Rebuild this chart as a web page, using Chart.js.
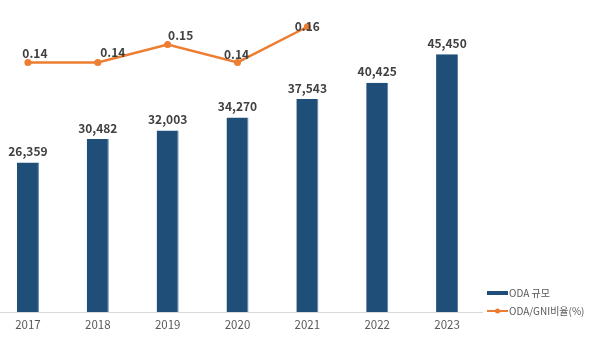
<!DOCTYPE html>
<html>
<head>
<meta charset="utf-8">
<script src="https://cdn.jsdelivr.net/npm/chart.js@4.4.1/dist/chart.umd.min.js"></script>
<style>
  html, body { margin: 0; padding: 0; background: #fff; overflow: hidden; }
  #wrap { width: 602px; height: 337px; position: relative; margin-left: -7px; }
</style>
</head>
<body>
<div id="wrap"><canvas id="oda"></canvas></div>
<script>
'use strict';

var years = ['2017', '2018', '2019', '2020', '2021', '2022', '2023'];
var odaSize = [26359, 30482, 32003, 34270, 37543, 40425, 45450];
var odaGniRatio = [0.14, 0.14, 0.15, 0.14, 0.16, null, null];
var seriesNames = ['ODA 규모', 'ODA/GNI비율(%)'];

var barColor = '#1f4e79';
var lineColor = '#ed7d31';
var fontFamily = "'Noto Sans CJK KR', 'Noto Sans', sans-serif";

// the ratio labels were hand placed in the original, nudge them the same way
var ratioLabelNudge = [[7, -9], [15, -10], [13, -9], [-1, -8], [0, 0]];

var valueLabels = {
  id: 'valueLabels',
  afterDatasetsDraw: function (chart) {
    var ctx = chart.ctx;
    ctx.save();
    ctx.font = 'bold 12px ' + fontFamily;
    ctx.fillStyle = '#404040';
    ctx.textAlign = 'center';
    ctx.textBaseline = 'middle';

    // dataset 0 = line, dataset 1 = bars
    chart.getDatasetMeta(1).data.forEach(function (bar, i) {
      ctx.fillText(odaSize[i].toLocaleString('en-US'), bar.x, bar.y - 11);
    });

    chart.getDatasetMeta(0).data.forEach(function (pt, i) {
      if (odaGniRatio[i] === null) return;
      var n = ratioLabelNudge[i] || [0, -9];
      ctx.fillText(odaGniRatio[i].toFixed(2), pt.x + n[0], pt.y + n[1]);
    });
    ctx.restore();
  }
};

var sideLegend = {
  id: 'sideLegend',
  afterDraw: function (chart) {
    var ctx = chart.ctx;
    var x = chart.chartArea.right + 5;
    ctx.save();
    ctx.fillStyle = barColor;
    ctx.fillRect(x, 291, 21, 4);

    ctx.strokeStyle = lineColor;
    ctx.lineWidth = 2;
    ctx.beginPath();
    ctx.moveTo(x, 311);
    ctx.lineTo(x + 21, 311);
    ctx.stroke();
    ctx.fillStyle = lineColor;
    ctx.beginPath();
    ctx.arc(x + 10.5, 311, 2.5, 0, Math.PI * 2);
    ctx.fill();

    ctx.font = '10px ' + fontFamily;
    ctx.fillStyle = '#595959';
    ctx.textAlign = 'left';
    ctx.textBaseline = 'middle';
    ctx.fillText(seriesNames[0], x + 22, 293);
    ctx.fillText(seriesNames[1], x + 22, 311);
    ctx.restore();
  }
};

var ctx = document.getElementById('oda');
var chart = new Chart(ctx, {
  data: {
    labels: years,
    datasets: [
      {
        type: 'line',
        label: seriesNames[1],
        data: odaGniRatio,
        yAxisID: 'yRatio',
        borderColor: lineColor,
        backgroundColor: lineColor,
        borderWidth: 2.5,
        pointRadius: 3.5,
        pointBackgroundColor: lineColor,
        pointBorderWidth: 0,
        tension: 0,
        order: 0
      },
      {
        type: 'bar',
        label: seriesNames[0],
        data: odaSize,
        yAxisID: 'y',
        backgroundColor: barColor,
        borderColor: '#5a7fa6',
        borderWidth: { right: 1 },
        categoryPercentage: 1,
        barPercentage: 0.315,
        order: 1
      }
    ]
  },
  options: {
    responsive: true,
    maintainAspectRatio: false,
    animation: false,
    layout: { autoPadding: false, padding: { left: 0, right: 113, top: 0, bottom: 0 } },
    plugins: {
      legend: { display: false },
      tooltip: { enabled: false }
    },
    scales: {
      x: {
        grid: { display: false, drawTicks: false },
        border: { display: true, color: '#d9d9d9', width: 1 },
        ticks: {
          color: '#595959',
          padding: 6,
          font: { family: fontFamily, size: 11.5 }
        },
        afterFit: function (scale) { scale.height = 25; }
      },
      y: {
        display: false,
        min: 0,
        max: 55000
      },
      yRatio: {
        display: false,
        position: 'right',
        min: 0,
        max: 0.175
      }
    }
  },
  plugins: [valueLabels, sideLegend]
});
</script>
</body>
</html>
